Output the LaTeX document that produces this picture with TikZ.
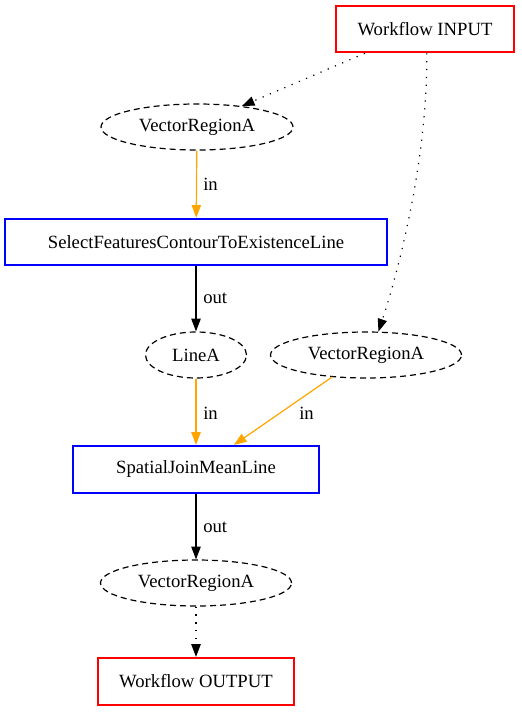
\documentclass[tikz,border=0pt]{standalone}
\usepackage{fontspec}
\setmainfont{Liberation Serif}
\usetikzlibrary{arrows.meta,shapes.geometric}
\definecolor{gvorange}{RGB}{255,165,0}
\tikzset{
  gvfont/.style={font=\fontsize{14pt}{16pt}\selectfont},
  box/.style={draw, line width=1.9pt, inner sep=0pt, minimum height=34.5pt, gvfont},
  redbox/.style={box, draw=red},
  bluebox/.style={box, draw=blue},
  data/.style={ellipse, draw, dash pattern=on 4.5pt off 3pt, line width=0.9pt, inner sep=0pt, minimum height=34.5pt, gvfont},
  edge/.style={line width=0.9pt, -{Triangle[length=9.5pt,width=7pt]}},
  dotedge/.style={edge, dash pattern=on 0.9pt off 5pt},
  inedge/.style={edge, draw=gvorange, -{Triangle[length=9.5pt,width=7pt,fill=gvorange]}},
  lab/.style={anchor=west, inner sep=0pt, gvfont}
}
\begin{document}
\begin{tikzpicture}[x=0.75pt,y=-0.75pt]
\useasboundingbox (0,0) rectangle (521,712);
\node[redbox, minimum width=133.5pt] (in) at (425,29) {Workflow INPUT};
\node[data, minimum width=144pt] (vr1) at (197,127) {VectorRegionA};
\node[bluebox, minimum width=286.5pt] (sel) at (196,242) {SelectFeaturesContourToExistenceLine};
\node[data, minimum width=75.75pt] (la) at (196,355) {LineA};
\node[data, minimum width=143.25pt] (vr2) at (366,355) {VectorRegionA};
\node[bluebox, minimum width=184.5pt, minimum height=35pt] (sj) at (196,469.5) {SpatialJoinMeanLine};
\node[data, minimum width=143.25pt] (vr3) at (196,583) {VectorRegionA};
\node[redbox, minimum width=147pt, minimum height=35pt] (out) at (196,681.5) {Workflow OUTPUT};

\draw[dotedge] (in.202) -- (vr1.25);
\draw[dotedge] (in.-86) .. controls (428,150) and (402,260) .. (vr2.62);
\draw[inedge] (vr1) -- (sel);
\node[lab] (l1) at (203,184) {in};
\draw[edge] (sel) -- (la);
\node[lab] (l2) at (203,298) {out};
\draw[inedge] (la) -- (sj);
\node[lab] (l3) at (203,413) {in};
\draw[inedge] (vr2.213) -- (sj.33);
\node[lab] (l4) at (299,413) {in};
\draw[edge] (sj) -- (vr3);
\node[lab] (l5) at (203,527) {out};
\draw[dotedge] (vr3) -- (out);
\end{tikzpicture}
\end{document}
